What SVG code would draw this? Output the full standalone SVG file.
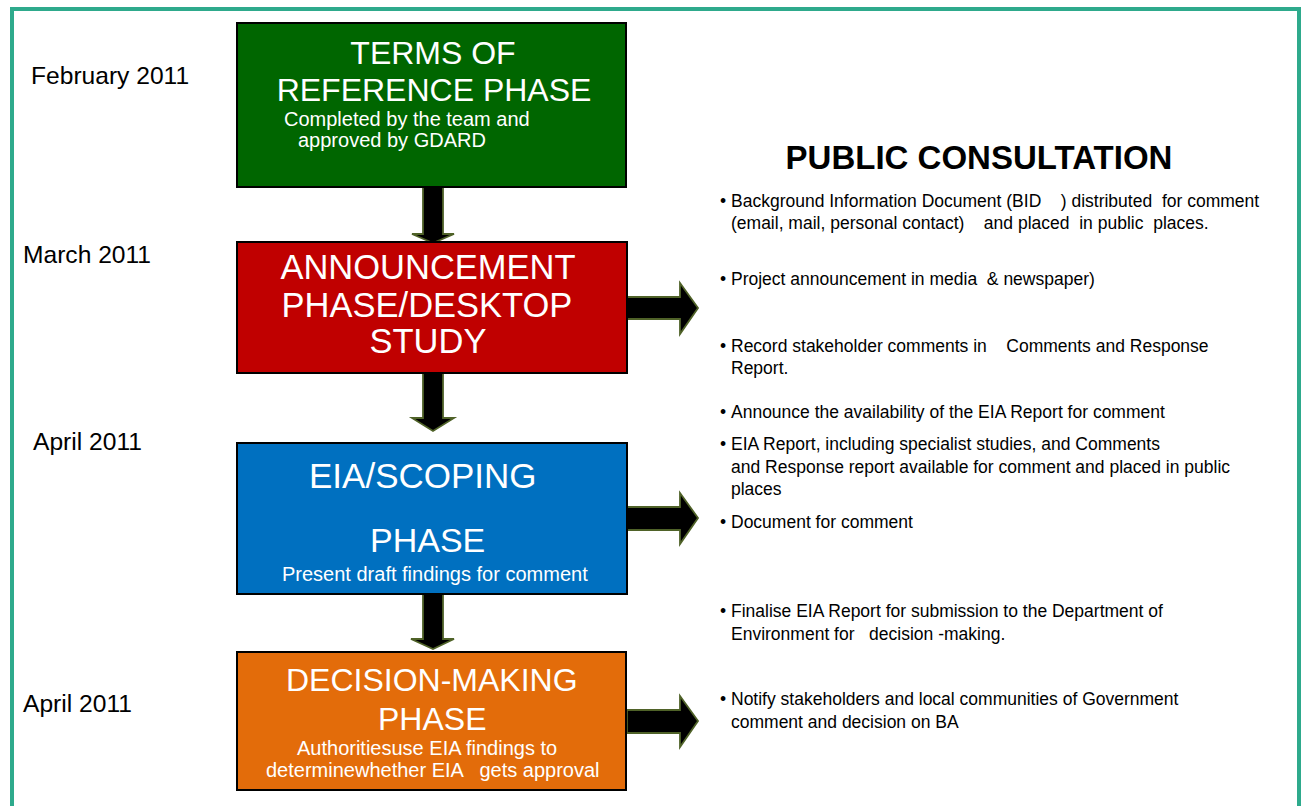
<svg xmlns="http://www.w3.org/2000/svg" width="1302" height="806" viewBox="0 0 1302 806">
  <style>
    .frame { fill: none; stroke: #2eaa8c; stroke-width: 4; }
    .box { stroke: #000; stroke-width: 2; }
    .flow { fill: #000; stroke: #4f6228; stroke-width: 1.8; stroke-linejoin: miter; }
    .date { font-family: "Liberation Sans", Arial, sans-serif; font-size: 24.6px; fill: #000; }
    .title { font-family: "Liberation Sans", Arial, sans-serif; fill: #fff; }
    .sub { font-family: "Liberation Sans", Arial, sans-serif; font-size: 20px; fill: #fff; white-space: pre; }
    .head { font-family: "Liberation Sans", Arial, sans-serif; font-size: 33px; font-weight: bold; fill: #000; }
    .item { font-family: "Liberation Sans", Arial, sans-serif; font-size: 17.5px; fill: #000; white-space: pre; }
  </style>

  <rect x="0" y="0" width="1302" height="806" fill="#fff"/>
  <rect class="frame" x="12" y="9" width="1287" height="820"/>

  <!-- timeline dates -->
  <g id="dates">
    <text class="date" x="31" y="84">February 2011</text>
    <text class="date" x="23" y="263">March 2011</text>
    <text class="date" x="33" y="450">April 2011</text>
    <text class="date" x="23" y="712">April 2011</text>
  </g>

  <!-- connectors between phases and towards the consultation list -->
  <g id="connectors">
    <polygon class="flow" points="423,187 443,187 443,234 454,234 433,243 412,234 423,234"/>
    <polygon class="flow" points="423,373 443,373 443,418 454,418 433,431 412,418 423,418"/>
    <polygon class="flow" points="423,594 443,594 443,639 454,639 433,649 411,639 423,639"/>
    <polygon class="flow" points="627,297 680,297 680,283 698,308 680,334 680,319 627,319"/>
    <polygon class="flow" points="627,507 680,507 680,493 698,518 680,544 680,530 627,530"/>
    <polygon class="flow" points="627,710 680,710 680,696 698,721 680,747 680,733 627,733"/>
  </g>

  <g id="phase-tor">
    <rect class="box" x="237" y="23" width="389" height="164" fill="#006600"/>
    <text class="title" font-size="32" x="433" y="64" text-anchor="middle">TERMS OF</text>
    <text class="title" font-size="32" x="434" y="101" text-anchor="middle">REFERENCE PHASE</text>
    <text class="sub" x="284" y="126">Completed by the team and</text>
    <text class="sub" x="298" y="147">approved by GDARD</text>
  </g>

  <g id="phase-announcement">
    <rect class="box" x="237" y="242" width="390" height="131" fill="#c00000"/>
    <text class="title" font-size="34.5" x="428" y="279" text-anchor="middle">ANNOUNCEMENT</text>
    <text class="title" font-size="34.5" x="427" y="317" text-anchor="middle">PHASE/DESKTOP</text>
    <text class="title" font-size="34.5" x="428" y="353" text-anchor="middle">STUDY</text>
  </g>

  <g id="phase-scoping">
    <rect class="box" x="237" y="443" width="390" height="151" fill="#0070c0"/>
    <text class="title" font-size="35" x="309" y="488">EIA/SCOPING</text>
    <text class="title" font-size="34" x="370" y="552">PHASE</text>
    <text class="sub" x="282" y="581">Present draft findings for comment</text>
  </g>

  <g id="phase-decision">
    <rect class="box" x="237" y="652" width="389" height="138" fill="#e36c0a"/>
    <text class="title" font-size="32" x="286" y="691">DECISION-MAKING</text>
    <text class="title" font-size="32" x="378" y="730">PHASE</text>
    <text class="sub" x="297" y="755">Authoritiesuse EIA findings to</text>
    <text class="sub" x="266" y="777">determinewhether EIA   gets approval</text>
  </g>

  <g id="public-consultation">
    <text class="head" x="979" y="169" text-anchor="middle">PUBLIC CONSULTATION</text>
    <text class="item" x="720" y="207">•</text>
    <text class="item" x="731" y="207">Background Information Document (BID    ) distributed  for comment</text>
    <text class="item" x="731" y="229">(email, mail, personal contact)    and placed  in public  places.</text>
    <text class="item" x="720" y="285">•</text>
    <text class="item" x="731" y="285">Project announcement in media  &amp; newspaper)</text>
    <text class="item" x="720" y="352">•</text>
    <text class="item" x="731" y="352">Record stakeholder comments in    Comments and Response</text>
    <text class="item" x="731" y="374">Report.</text>
    <text class="item" x="720" y="418">•</text>
    <text class="item" x="731" y="418">Announce the availability of the EIA Report for comment</text>
    <text class="item" x="720" y="450">•</text>
    <text class="item" x="731" y="450">EIA Report, including specialist studies, and Comments</text>
    <text class="item" x="731" y="473">and Response report available for comment and placed in public</text>
    <text class="item" x="731" y="495">places</text>
    <text class="item" x="720" y="528">•</text>
    <text class="item" x="731" y="528">Document for comment</text>
    <text class="item" x="720" y="617">•</text>
    <text class="item" x="731" y="617">Finalise EIA Report for submission to the Department of</text>
    <text class="item" x="731" y="640">Environment for   decision -making.</text>
    <text class="item" x="720" y="705">•</text>
    <text class="item" x="731" y="705">Notify stakeholders and local communities of Government</text>
    <text class="item" x="731" y="728">comment and decision on BA</text>
  </g>
</svg>
